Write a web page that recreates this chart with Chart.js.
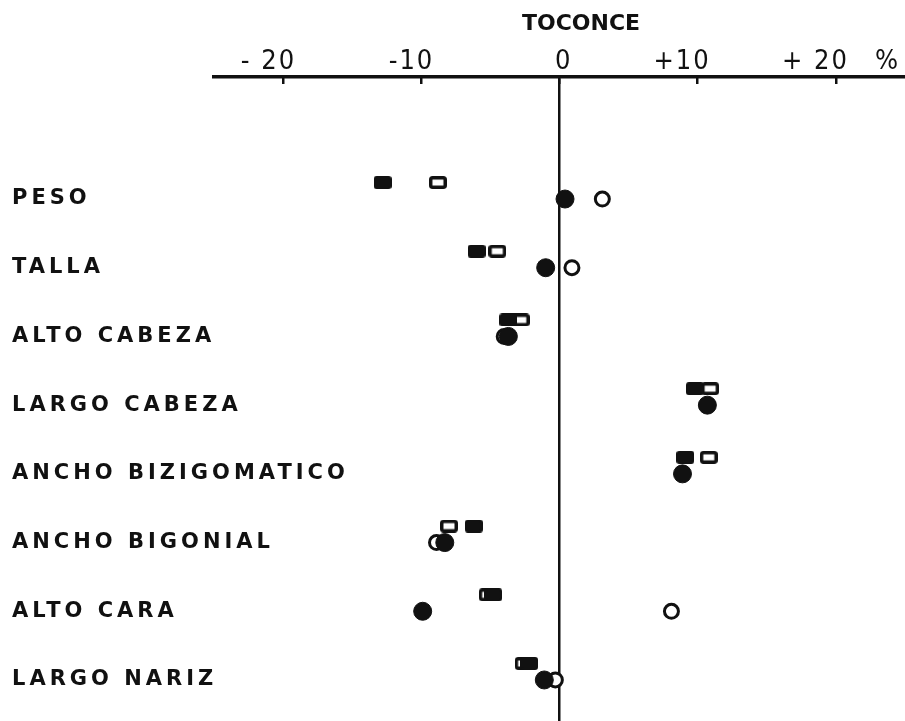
<!DOCTYPE html>
<html>
<head>
<meta charset="utf-8">
<script src="https://cdn.jsdelivr.net/npm/chart.js@4.4.0/dist/chart.umd.min.js"></script>
<style>
    html, body { margin: 0; padding: 0; background: #fff; }
    #wrap { position: relative; width: 905px; height: 721px; }
</style>
</head>
<body>
<div id="wrap"><canvas id="toconce"></canvas></div>
<script>
const categories = ['PESO', 'TALLA', 'ALTO CABEZA', 'LARGO CABEZA', 'ANCHO BIZIGOMATICO', 'ANCHO BIGONIAL', 'ALTO CARA', 'LARGO NARIZ'];
const filledSquare = [-12.8, -6.0, -3.7, 9.8, 9.1, -6.2, -4.8, -2.2];
const openSquare   = [-8.8, -4.5, -2.8, 10.9, 10.8, -8.0, -5.2, -2.6];
const filledCircle = [0.4, -1.0, -3.7, 10.7, 8.9, -8.3, -9.9, -1.1];
const openCircle   = [3.1, 0.9, -4.0, 10.7, 8.9, -8.9, 8.1, -0.3];
const tickValues = [-20, -10, 0, 10, 20];
const tickLabels = ['- 20', '-10', '0', '+10', '+ 20'];
const unitLabel = '%';
const chartTitle = 'TOCONCE';

const INK = '#111';
const UNIT_AT = 23.7;       // where the "%" sits on the axis
const SQUARE_SHIFT = -0.24; // squares sit a little above each row
const LABEL_LEFT = 12;      // row names start here
const PLOT_LEFT = 214;      // the axis line starts here

// rectangle markers, drawn once and used as pointStyle
function rectMarker(filled) {
    const c = document.createElement('canvas');
    c.width = 18;
    c.height = 13;
    const g = c.getContext('2d');
    const lw = filled ? 2 : 3.5;
    g.beginPath();
    g.roundRect(lw / 2, lw / 2, c.width - lw, c.height - lw, 2);
    g.fillStyle = filled ? INK : '#fff';
    g.fill();
    g.lineWidth = lw;
    g.strokeStyle = INK;
    g.stroke();
    return c;
}

function rowPoints(values, shift) {
    return values.map((v, i) => ({x: v, y: i + shift}));
}

function noEdgePadding(s) {
    s.paddingLeft = 0;
    s.paddingRight = 0;
    s.paddingTop = 0;
    s.paddingBottom = 0;
}

const lettering = {
    id: 'lettering',
    beforeDraw(chart) {
        chart.ctx.letterSpacing = '2px';   // x tick labels
    },
    afterDatasetsDraw(chart) {
        chart.ctx.letterSpacing = '4px';   // row names
    },
    afterDraw(chart) {
        const ctx = chart.ctx;
        ctx.save();
        ctx.letterSpacing = '0px';
        ctx.font = 'bold 22px "DejaVu Sans"';
        ctx.fillStyle = INK;
        ctx.textAlign = 'center';
        ctx.textBaseline = 'middle';
        ctx.fillText(chartTitle, 581, 24);
        ctx.restore();
    }
};

const chart = new Chart(document.getElementById('toconce'), {
    type: 'scatter',
    data: {
        datasets: [
            {
                label: 'filled circle',
                data: rowPoints(filledCircle, 0),
                pointStyle: 'circle',
                pointRadius: 9,
                backgroundColor: INK,
                borderColor: INK,
                borderWidth: 1,
                order: 0
            },
            {
                label: 'open circle',
                data: rowPoints(openCircle, 0),
                pointStyle: 'circle',
                pointRadius: 7,
                backgroundColor: '#fff',
                borderColor: INK,
                borderWidth: 3,
                order: 1
            },
            {
                label: 'filled square',
                data: rowPoints(filledSquare, SQUARE_SHIFT),
                pointStyle: rectMarker(true),
                order: 2
            },
            {
                label: 'open square',
                data: rowPoints(openSquare, SQUARE_SHIFT),
                pointStyle: rectMarker(false),
                order: 3
            }
        ]
    },
    options: {
        responsive: true,
        maintainAspectRatio: false,
        animation: false,
        events: [],
        layout: {autoPadding: false, padding: {left: LABEL_LEFT, right: 0, top: 0, bottom: 0}},
        plugins: {
            legend: {display: false},
            tooltip: {enabled: false}
        },
        scales: {
            x: {
                type: 'linear',
                position: 'top',
                min: -25,
                max: 25,
                afterBuildTicks: (s) => {
                    s.ticks = tickValues.map(v => ({value: v})).concat([{value: UNIT_AT}]);
                },
                afterFit: (s) => {
                    s.height = 77;
                    noEdgePadding(s);
                },
                ticks: {
                    callback: (v, i) => i < tickLabels.length ? tickLabels[i] : unitLabel,
                    font: {family: 'DejaVu Sans Condensed', size: 27},
                    color: INK,
                    padding: 6,
                    // in the original the number sits over the tick and the sign hangs left
                    align: 'end',
                    labelOffset: 13,
                    autoSkip: false,
                    maxRotation: 0,
                    minRotation: 0
                },
                grid: {
                    color: (c) => c.tick && c.tick.value === 0 ? INK : 'rgba(0,0,0,0)',
                    lineWidth: 2.5,
                    drawTicks: true,
                    tickLength: -7,
                    tickColor: (c) => c.tick && c.tick.value === UNIT_AT ? 'rgba(0,0,0,0)' : INK,
                    tickWidth: 2.5
                },
                border: {display: true, color: INK, width: 3.5}
            },
            y: {
                type: 'linear',
                position: 'left',
                reverse: true,
                min: -1.776,
                max: 7.597,
                afterBuildTicks: (s) => {
                    s.ticks = categories.map((c, i) => ({value: i}));
                },
                afterFit: (s) => {
                    s.width = PLOT_LEFT - LABEL_LEFT;
                    noEdgePadding(s);
                },
                ticks: {
                    callback: (v) => categories[v],
                    // mirrored so long names may run past the plot edge, as in the original
                    mirror: true,
                    crossAlign: 'near',
                    padding: LABEL_LEFT - PLOT_LEFT,
                    font: {family: 'DejaVu Sans', weight: 'bold', size: 21},
                    color: INK,
                    autoSkip: false,
                    z: 1
                },
                grid: {display: false},
                border: {display: false}
            }
        }
    },
    plugins: [lettering]
});
</script>
</body>
</html>
